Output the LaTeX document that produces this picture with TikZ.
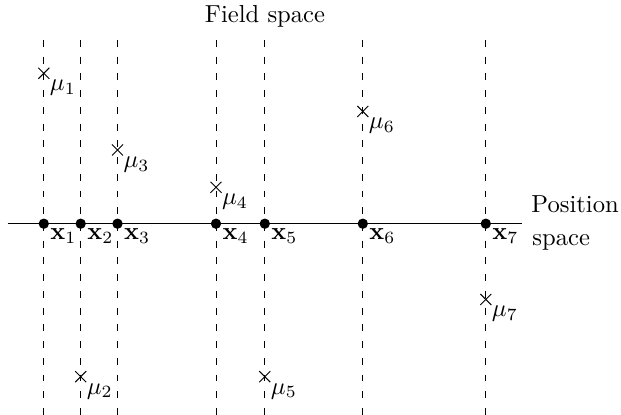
\documentclass[tikz,border=0pt]{standalone}
\usepackage{amsmath}
\begin{document}
\begin{tikzpicture}[x=0.4065pt,y=-0.4065pt,
  guide/.style={dash pattern=on 2.8pt off 4pt, line width=0.4pt},
  pt/.style={circle, fill=black, inner sep=0pt, minimum size=4.2pt},
  xlab/.style={anchor=north west, inner sep=0pt, xshift=2.5pt, yshift=-1.8pt},
  mulab/.style={anchor=north west, inner sep=0pt, xshift=2.3pt, yshift=-2.6pt},
  crs/.style={line width=0.4pt}]
\useasboundingbox (0,0) rectangle (621,415);
% guide lines
\foreach \n/\x in {1/43.8,2/80.7,3/117.5,4/216,5/264.8,6/362.8,7/485.8}{
  \coordinate (t\n) at (\x,40);
  \coordinate (b\n) at (\x,415);
  \draw[guide] (t\n) -- (b\n);
}
% axis
\coordinate (L) at (7.5,223.7);
\coordinate (R) at (522,223.7);
\draw (L) -- (R);
% points
\foreach \n/\x in {1/43.8,2/80.7,3/117.5,4/216,5/264.8,6/362.8,7/485.8}{
  \node[pt] (x\n) at (\x,223.7) {};
  \node[xlab] (lx\n) at (x\n.center) {$\mathbf{x}_{\n}$};
}
% crosses
\foreach \n/\x/\y in {1/43.8/73.3,2/80.7/376.7,3/117.5/150,4/216/187.3,5/264.8/376.7,6/362.8/111.5,7/485.8/299.5}{
  \coordinate (m\n) at (\x,\y);
  \draw[crs] ([shift={(-5.5,-5.5)}]m\n) -- ([shift={(5.5,5.5)}]m\n);
  \draw[crs] ([shift={(-5.5,5.5)}]m\n) -- ([shift={(5.5,-5.5)}]m\n);
  \node[mulab] (lm\n) at (m\n) {$\mu_{\n}$};
}
\node[anchor=base] (fs) at (265,23) {Field space};
\node[anchor=base west, inner sep=0pt] (ps1) at (531,213) {Position};
\node[anchor=base west, inner sep=0pt] (ps2) at (532,246) {space};
\end{tikzpicture}
\end{document}
